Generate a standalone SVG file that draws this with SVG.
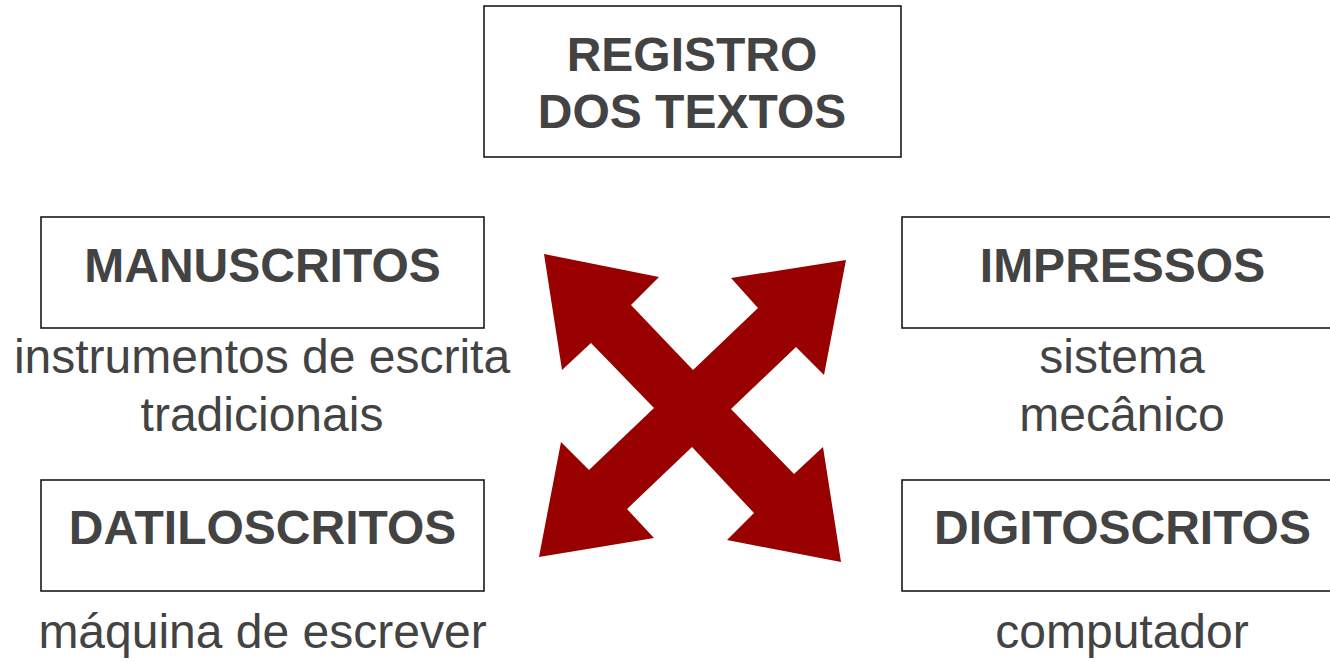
<svg xmlns="http://www.w3.org/2000/svg" width="1330" height="662" viewBox="0 0 1330 662">
<style>
.box{fill:#fff;stroke:#1a1a1a;stroke-width:1.6}
.t{font-family:"Liberation Sans",Arial,sans-serif;font-size:48px;fill:#434343;text-anchor:middle}
.b{font-weight:bold}
</style>
<rect width="1330" height="662" fill="#fff"/>
<g id="connectors">
<polygon fill="#990000" points="544,254 659,277 631,305 693,370 758,308 731,278 846,260 824,375 796,347 731,409 794,474 823,447 841,562 727,540 754,513 692,447 627,509 654,538 539,557 561,442 589,470 654,408 591,343 562,370"/>
</g>
<g id="registro">
<rect class="box" x="484" y="6" width="417" height="151"/>
<text class="t b" x="692" y="71">REGISTRO</text>
<text class="t b" x="692" y="128">DOS TEXTOS</text>
</g>
<g id="manuscritos">
<rect class="box" x="41" y="217" width="443" height="111"/>
<text class="t b" x="262.5" y="282">MANUSCRITOS</text>
<text class="t" x="262" y="373">instrumentos de escrita</text>
<text class="t" x="262" y="431">tradicionais</text>
</g>
<g id="impressos">
<rect class="box" x="902" y="217" width="443" height="111"/>
<text class="t b" x="1122.5" y="282">IMPRESSOS</text>
<text class="t" x="1122" y="373">sistema</text>
<text class="t" x="1122" y="431">mecânico</text>
</g>
<g id="datiloscritos">
<rect class="box" x="41" y="480" width="443" height="111"/>
<text class="t b" x="262.5" y="544">DATILOSCRITOS</text>
<text class="t" x="262.5" y="648">máquina de escrever</text>
</g>
<g id="digitoscritos">
<rect class="box" x="902" y="480" width="443" height="111"/>
<text class="t b" x="1122.5" y="544">DIGITOSCRITOS</text>
<text class="t" x="1122" y="648">computador</text>
</g>
</svg>
